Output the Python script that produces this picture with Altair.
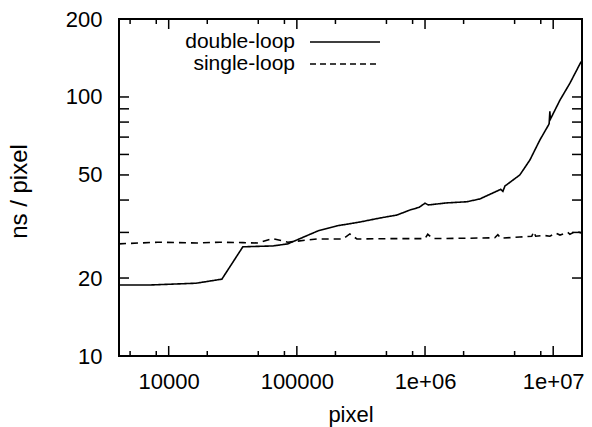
import altair as alt
import pandas as pd

# ---------------- data ----------------
series_names = ["double-loop", "single-loop"]

double_x = [4096, 7150, 16384, 26000, 37900, 65000, 85000, 146000, 205000, 310000,
            445000, 603000, 762000, 900000, 1000000, 1060000, 1480000, 2120000,
            2680000, 3380000, 3900000, 4050000, 4200000, 5490000, 6580000, 7870000,
            9200000, 9300000, 9420000, 9500000, 11300000, 13500000, 16400000, 16777216]
double_y = [18.8, 18.8, 19.1, 19.8, 26.4, 26.6, 27.1, 30.4, 31.8, 32.9,
            34.1, 35.0, 36.6, 37.5, 38.9, 38.3, 39.0, 39.4,
            40.4, 42.6, 44.0, 43.2, 45.3, 50.0, 57.1, 68.2,
            78.0, 79.0, 88.0, 82.0, 97.3, 113.0, 136.0, 138.0]

single_x = [4096, 8240, 16600, 25100, 37900, 49700, 65000, 85000, 143000, 229000,
            259000, 294000, 637000, 1000000, 1050000, 1150000, 2240000, 3500000,
            3700000, 3900000, 5490000, 6800000, 7060000, 7300000, 8500000, 9420000,
            10500000, 11300000, 13000000, 13500000, 15000000, 16777216]
single_y = [27.1, 27.5, 27.3, 27.5, 27.4, 27.3, 28.4, 27.5, 28.3, 28.3,
            29.6, 28.3, 28.4, 28.4, 29.5, 28.4, 28.5, 28.6,
            29.4, 28.5, 28.8, 29.0, 30.2, 29.0, 29.2, 29.0,
            29.8, 29.3, 30.0, 29.5, 30.3, 29.8]

x_domain = [4096, 16777216]
y_domain = [10, 200]
x_major_ticks = [1e4, 1e5, 1e6, 1e7]
x_minor_ticks = [5e3, 8e3, 2e4, 5e4, 8e4, 2e5, 5e5, 8e5, 2e6, 5e6, 8e6]
y_ticks = [10, 20, 30, 40, 50, 60, 70, 80, 90, 100, 200]
y_labels = [10, 20, 50, 100, 200]

x_title = "pixel"
y_title = "ns / pixel"

# ---------------- layout ----------------
W, H = 463, 337
FONT = "Liberation Sans"
FS = 22

df = pd.concat([
    pd.DataFrame({"pixel": double_x, "ns": double_y, "series": series_names[0]}),
    pd.DataFrame({"pixel": single_x, "ns": single_y, "series": series_names[1]}),
])

xs = alt.Scale(type="log", domain=x_domain, nice=False)
ys = alt.Scale(type="log", domain=y_domain, nice=False)

x_label_expr = ("datum.value >= 1000000 ? '1e+0' + format(round(log(datum.value)/LN10), 'd')"
                " : format(datum.value, 'd')")

x_axis = alt.Axis(values=x_major_ticks, labelExpr=x_label_expr, title=x_title,
                  labelPadding=15, labelFlush=False, labelOverlap=False,
                  titleY=65, titleBaseline="alphabetic")
y_axis = alt.Axis(values=y_labels, format="d", title=y_title,
                  labelPadding=17, labelFlush=False, labelOverlap=False,
                  titleX=-100, titleY=172, titleBaseline="middle",
                  titleFontSize=24)

lines = alt.Chart(df).mark_line(color="black", strokeWidth=1.6, clip=True).encode(
    x=alt.X("pixel:Q", scale=xs, axis=x_axis),
    y=alt.Y("ns:Q", scale=ys, axis=y_axis),
    strokeDash=alt.StrokeDash("series:N",
                              scale=alt.Scale(domain=series_names, range=[[1, 0], [7, 5]]),
                              legend=None),
    detail="series:N",
)

def xrule(vals, y0, y1):
    return alt.Chart(pd.DataFrame({"pixel": vals})).mark_rule(color="black", strokeWidth=1.5).encode(
        x=alt.X("pixel:Q", scale=xs, axis=x_axis), y=alt.value(y0), y2=alt.value(y1))

def yrule(vals, x0, x1):
    return alt.Chart(pd.DataFrame({"ns": vals})).mark_rule(color="black", strokeWidth=1.5).encode(
        y=alt.Y("ns:Q", scale=ys, axis=y_axis), x=alt.value(x0), x2=alt.value(x1))

ticks = [
    xrule(x_major_ticks, H, H - 10), xrule(x_minor_ticks, H, H - 5),
    xrule(x_major_ticks, 0, 10), xrule(x_minor_ticks, 0, 5),
    yrule(y_ticks, 0, 10), yrule(y_ticks, W, W - 10),
]

leg_df = pd.DataFrame({"series": series_names})
legend_layers = []
for i, name in enumerate(series_names):
    yy = 23 + 22 * i
    legend_layers.append(
        alt.Chart(leg_df).transform_filter(alt.datum.series == name)
        .mark_text(align="right", baseline="middle", font=FONT, fontSize=21, color="black")
        .encode(text="series:N", x=alt.value(176), y=alt.value(yy))
    )
    legend_layers.append(
        alt.Chart(leg_df).transform_filter(alt.datum.series == name)
        .mark_rule(color="black", strokeWidth=1.6, strokeDash=([1, 0] if i == 0 else [6, 4]))
        .encode(x=alt.value(191), x2=alt.value(261), y=alt.value(yy))
    )

chart = alt.layer(lines, *ticks, *legend_layers).properties(
    width=W, height=H,
    padding={"left": 119, "top": 19, "right": 10, "bottom": 71},
    autosize=alt.AutoSizeParams(type="none"),
    background="white",
).configure_view(
    stroke="black", strokeWidth=2,
).configure_axis(
    labelFont=FONT, titleFont=FONT, labelFontSize=FS, titleFontSize=FS,
    labelColor="black", titleColor="black", titleFontWeight="normal",
    domain=False, ticks=False, tickSize=0, grid=False,
)

chart.save("out.html", embed_options={"renderer": "svg", "actions": False})
